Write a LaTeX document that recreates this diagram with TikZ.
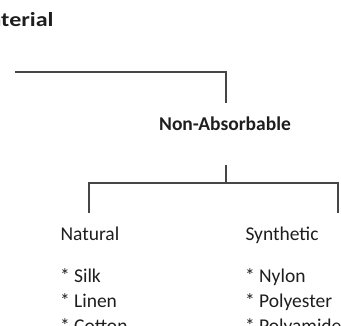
\documentclass[tikz,border=0pt]{standalone}
\usepackage{fontspec}
\setmainfont{Carlito}
\definecolor{linegray}{RGB}{70,70,70}
\definecolor{textgray}{RGB}{30,30,30}
\begin{document}
\begin{tikzpicture}[x=1pt,y=-1pt,
  lbl/.style={inner sep=0pt,outer sep=0pt,font=\fontsize{19.5}{23}\selectfont,text=textgray},
  head/.style={lbl,font=\fontsize{19.5}{23}\selectfont\bfseries},
  conn/.style={draw=linegray,line width=1.3pt}]
\useasboundingbox (0,0) rectangle (341,325);
\clip (0,0) rectangle (341,325);
\node[head,anchor=base east,font=\fontsize{20}{24}\selectfont\bfseries] (material) at (53.5,26) {\scalebox{1.2}[1]{Material}};
\node[head,anchor=base] (nonabs) at (225,130.5) {Non-Absorbable};
\node[lbl,anchor=base west] (natural) at (60.5,240.5) {Natural};
\node[lbl,anchor=base west] (synthetic) at (245.5,240.5) {Synthetic};
\node[lbl,anchor=base west] (silk) at (60,282.5) {* Silk};
\node[lbl,anchor=base west] (linen) at (60,307.5) {* Linen};
\node[lbl,anchor=base west] (cotton) at (60,332.5) {* Cotton};
\node[lbl,anchor=base west] (nylon) at (245,282.5) {* Nylon};
\node[lbl,anchor=base west] (polyester) at (245,307.5) {* Polyester};
\node[lbl,anchor=base west] (polyamide) at (245,332.5) {* Polyamide};
\coordinate (tl) at (15,72);
\coordinate (tr) at (226,72);
\coordinate (nt) at (226,103);
\coordinate (nb) at (226,165);
\coordinate (mid) at (226,183);
\coordinate (bl) at (89,183);
\coordinate (br) at (338,183);
\coordinate (natTop) at (89,213);
\coordinate (synTop) at (338,213);
\draw[conn] (tl) -- (tr) -- (nt);
\draw[conn] (nb) -- (mid);
\draw[conn] (natTop) -- (bl) -- (br) -- (synTop);
\end{tikzpicture}
\end{document}
